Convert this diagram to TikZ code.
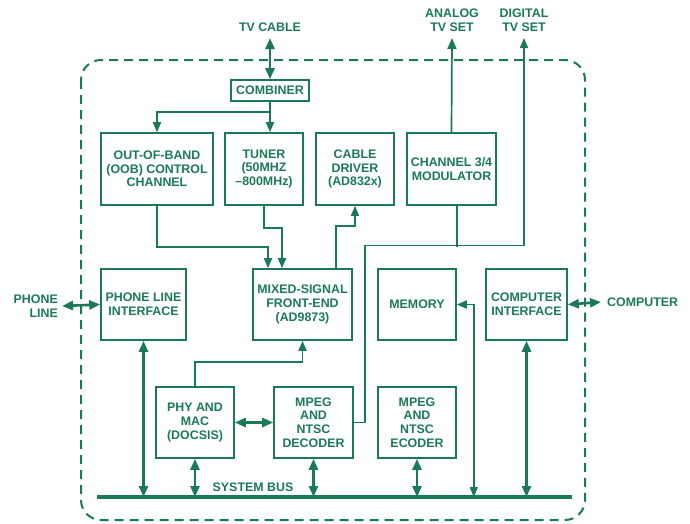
\documentclass[tikz,border=0pt]{standalone}
\usepackage{fontspec}
\setmainfont{Liberation Sans}
\usetikzlibrary{positioning,arrows.meta}
\definecolor{adgreen}{RGB}{26,122,87}

\begin{document}
\begin{tikzpicture}[x=1pt, y=-1pt,
  every node/.style={font=\fontsize{12.4}{13.6}\selectfont\bfseries, text=adgreen},
  blk/.style={draw=adgreen, line width=1.6pt, align=center, inner sep=0pt},
  lbl/.style={align=center, inner sep=0pt},
  sig/.style={draw=adgreen, line width=1.7pt, -{Triangle[length=10pt,width=8pt]}},
  sigboth/.style={sig, {Triangle[length=10pt,width=8pt]}-{Triangle[length=10pt,width=8pt]}},
  wire/.style={draw=adgreen, line width=1.7pt},
  fat/.style={draw=adgreen, line width=2.6pt, {Triangle[length=11pt,width=9pt]}-{Triangle[length=11pt,width=9pt]}},
  fatin/.style={draw=adgreen, line width=2.6pt, -{Triangle[length=11pt,width=9pt]}},
  border/.style={draw=adgreen, line width=2pt, dash pattern=on 9pt off 6pt, rounded corners=20pt}]

\useasboundingbox (0,0) rectangle (690,523);

% set-top box outline
\draw[border] (81,60) rectangle (585,520);

% outside pins
\coordinate (cabletip) at (270,38);
\coordinate (atvtip) at (452,38);
\coordinate (dtvtip) at (524,38);
\coordinate (phonetip) at (62,306);
\coordinate (comptip) at (601,302);

\node[lbl, above=6.5pt of cabletip] (cable) {TV CABLE};
\node[lbl, above=6.5pt of atvtip] (atv) {ANALOG\\TV SET};
\node[lbl, above=6.5pt of dtvtip] (dtv) {DIGITAL\\TV SET};
\node[lbl, align=right, left=4pt of phonetip] (phline) {PHONE\\LINE};
\node[lbl, right=6pt of comptip] (comp) {COMPUTER};

% blocks
\node[blk, minimum width=78pt, minimum height=21pt] (comb) at (270,90.5) {COMBINER};

\node[blk, minimum width=112pt, minimum height=72pt] (oob) at (157,169) {OUT-OF-BAND\\(OOB) CONTROL\\CHANNEL};
\node[blk, minimum width=78pt, minimum height=72pt] (tuner) at (264,169) {TUNER\\(50MHZ\\--800MHz)};
\node[blk, minimum width=78pt, minimum height=72pt] (driver) at (355,169) {CABLE\\DRIVER\\(AD832x)};
\node[blk, minimum width=89pt, minimum height=72pt] (modul) at (451.5,169) {CHANNEL 3/4\\MODULATOR};

\node[blk, minimum width=85pt, minimum height=71pt] (phone) at (143.5,304.5) {PHONE LINE\\INTERFACE};
\node[blk, minimum width=99pt, minimum height=71pt] (mixed) at (302.5,304.5) {MIXED-SIGNAL\\FRONT-END\\(AD9873)};
\node[blk, minimum width=78pt, minimum height=71pt] (memory) at (417,304.5) {MEMORY};
\node[blk, minimum width=81pt, minimum height=71pt] (compif) at (526.5,304.5) {COMPUTER\\INTERFACE};

\node[blk, minimum width=78pt, minimum height=71pt] (phy) at (195,422.5) {PHY AND\\MAC\\(DOCSIS)};
\node[blk, minimum width=79pt, minimum height=71pt] (dec) at (313.5,422.5) {MPEG\\AND\\NTSC\\DECODER};
\node[blk, minimum width=78pt, minimum height=71pt] (enc) at (417,422.5) {MPEG\\AND\\NTSC\\ECODER};

% system bus
\coordinate (busL) at (97,497);
\coordinate (busR) at (572,497);
\draw[adgreen, line width=4pt] (busL) -- (busR);
\node[lbl] (busname) at (253,487) {SYSTEM BUS};

% cable side
\draw[fat] (cabletip) -- (comb.north);
\draw[sig] (comb.south) -- (tuner.north -| comb.south);
\draw[sig] (comb.south) -- ++(0,10) -| (oob.north);
\draw[sig] (oob.south) -- ++(0,41) -| ([xshift=-34.5pt]mixed.north);
\draw[sig] (tuner.south) -- ++(0,22) -| ([xshift=-20.5pt]mixed.north);
\draw[sig] ([xshift=33.5pt]mixed.north) -- ++(0,-42) -| (driver.south);
\draw[sig] (phy.north) -- ++(0,-24) -| (mixed.south);

% video out
\draw[fatin, line width=1.7pt] (modul.north) -- (atvtip);
\draw[sig] (dec.east) -- ++(11,0) -- ++(0,-177) -| (dtvtip);
\draw[wire] ([xshift=5.5pt]modul.south) -- ++(0,41);
\draw[fat] (phy.east) -- (dec.west);

% side ports
\draw[fat] (phonetip) -- (phone.west);
\draw[fat] (compif.east) -- (comptip);

% bus taps
\draw[fat] (phone.south) -- (phone.south |- busL);
\draw[fat] (phy.south) -- (phy.south |- busL);
\draw[fat] (dec.south) -- (dec.south |- busL);
\draw[fat] (enc.south) -- (enc.south |- busL);
\draw[sigboth] (memory.east) -- ++(17,0) -- ++(0,192.5);
\draw[fat] (compif.south) -- (compif.south |- busL);

\end{tikzpicture}
\end{document}
